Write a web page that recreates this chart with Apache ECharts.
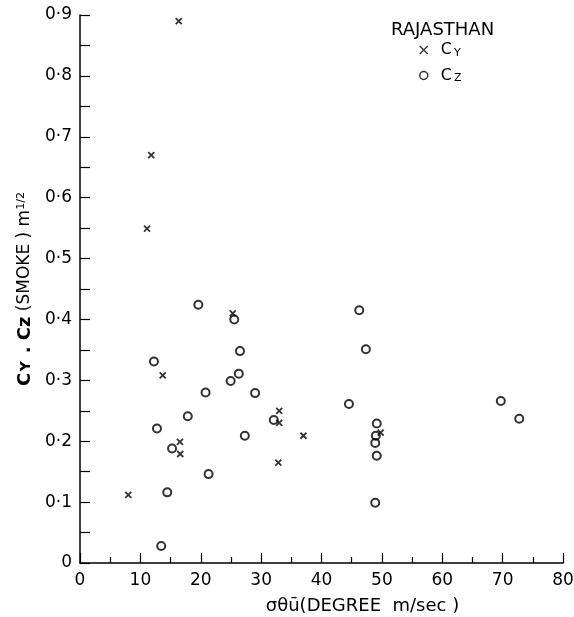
<!DOCTYPE html>
<html>
<head>
<meta charset="utf-8">
<script src="https://cdn.jsdelivr.net/npm/echarts@6/dist/echarts.min.js"></script>
<style>
  html, body { margin: 0; padding: 0; background: #fff; }
  #chart { width: 574px; height: 617px; }
</style>
</head>
<body>
<div id="chart"></div>
<script>
// Cy and Cz (smoke) against sigma-theta times mean wind speed, Rajasthan
const regionName = 'RAJASTHAN';
const xTicks = [0, 10, 20, 30, 40, 50, 60, 70, 80];
const yTicks = [0, 0.1, 0.2, 0.3, 0.4, 0.5, 0.6, 0.7, 0.8, 0.9];

// Cy points: [sigma-theta * u, Cy]
const cyX = [16.35, 11.8, 11.1, 25.3, 13.7, 33.0, 33.0, 16.55, 16.6, 32.85, 8.0, 37.0, 49.8];
const cyY = [0.89, 0.67, 0.549, 0.41, 0.308, 0.25, 0.23, 0.199, 0.179, 0.165, 0.112, 0.209, 0.214];

// Cz points: [sigma-theta * u, Cz]
const czX = [19.6, 25.55, 12.25, 26.5, 26.3, 24.95, 20.8, 29.0, 17.85, 32.1, 12.75, 27.3, 15.25,
             21.3, 14.45, 13.45, 46.25, 47.35, 44.55, 69.7, 72.75, 49.15, 49.0, 48.9, 49.15, 48.9];
const czY = [0.424, 0.400, 0.331, 0.348, 0.311, 0.299, 0.280, 0.279, 0.241, 0.235, 0.221, 0.209, 0.188,
             0.146, 0.116, 0.028, 0.415, 0.351, 0.261, 0.266, 0.237, 0.229, 0.209, 0.197, 0.176, 0.099];

const ink = '#000';
const font = 'DejaVu Sans';
const crossPath = 'path://M0,0L10,10M10,0L0,10';

const pairs = (xs, ys) => xs.map((x, i) => [x, ys[i]]);

const chart = echarts.init(document.getElementById('chart'));
chart.setOption({
  backgroundColor: '#fff',
  animation: false,
  title: {
    text: regionName,
    left: 386,
    top: 16,
    textStyle: { fontFamily: font, fontSize: 18, fontWeight: 'normal', color: ink }
  },
  legend: {
    orient: 'vertical',
    left: 414,
    top: 37,
    itemGap: 9,
    itemWidth: 12,
    itemHeight: 8,
    textStyle: {
      fontFamily: font, fontSize: 16, color: ink,
      rich: {
        c: { fontFamily: font, fontSize: 16, color: ink, padding: [0, 0, 0, 6] },
        s: { fontFamily: font, fontSize: 11, color: ink, verticalAlign: 'bottom', padding: [6, 0, 0, 2] }
      }
    },
    formatter: name => '{c|C}{s|' + name.slice(1) + '}',
    data: [
      { name: 'CY', icon: crossPath, itemStyle: { color: 'transparent', borderColor: ink, borderWidth: 1.3 } },
      { name: 'CZ', icon: 'circle', itemStyle: { color: 'transparent', borderColor: ink, borderWidth: 1.5 } }
    ]
  },
  grid: { left: 80, right: 11, top: 15, bottom: 54, outerBoundsMode: 'none', containLabel: false },
  xAxis: {
    type: 'value',
    min: xTicks[0],
    max: xTicks[xTicks.length - 1],
    interval: 10,
    name: 'σθū(DEGREE  m/sec )',
    nameLocation: 'middle',
    nameGap: 34,
    nameTextStyle: { fontFamily: font, fontSize: 18, color: ink, padding: [0, 0, 0, 82] },
    axisLine: { lineStyle: { color: ink, width: 1.5 } },
    axisTick: { inside: true, length: 10, lineStyle: { color: ink, width: 1.2 } },
    minorTick: { show: true, splitNumber: 2, length: 6, lineStyle: { color: ink, width: 1.2 } },
    axisLabel: { fontFamily: font, fontSize: 17, color: ink, margin: 9 },
    splitLine: { show: false }
  },
  yAxis: {
    type: 'value',
    min: yTicks[0],
    max: yTicks[yTicks.length - 1],
    interval: 0.1,
    name: '{b|Cʏ . Cᴢ}{n| (SMOKE ) m}{p|1/2}',
    nameLocation: 'middle',
    nameGap: 43,
    nameRotate: 90,
    nameTextStyle: {
      fontFamily: font, fontSize: 17, color: ink,
      rich: {
        b: { fontFamily: font, fontSize: 18, fontWeight: 'bold', color: ink },
        n: { fontFamily: font, fontSize: 17, color: ink },
        p: { fontFamily: font, fontSize: 11, color: ink, verticalAlign: 'top', padding: [0, 0, 8, 0] }
      }
    },
    axisLine: { lineStyle: { color: ink, width: 1.5 } },
    axisTick: { inside: true, length: 10, lineStyle: { color: ink, width: 1.2 } },
    minorTick: { show: true, splitNumber: 2, length: 10, lineStyle: { color: ink, width: 1.2 } },
    axisLabel: {
      fontFamily: font, fontSize: 17, color: ink, margin: 8,
      formatter: v => v === 0 ? '0' : v.toFixed(1).replace('.', '·')
    },
    splitLine: { show: false }
  },
  series: [
    {
      name: 'CY',
      type: 'scatter',
      symbol: crossPath,
      symbolSize: 6,
      itemStyle: { color: 'transparent', borderColor: ink, borderWidth: 1.8 },
      data: pairs(cyX, cyY)
    },
    {
      name: 'CZ',
      type: 'scatter',
      symbol: 'circle',
      symbolSize: 8,
      itemStyle: { color: 'transparent', borderColor: ink, borderWidth: 2 },
      data: pairs(czX, czY)
    }
  ]
});
</script>
</body>
</html>
